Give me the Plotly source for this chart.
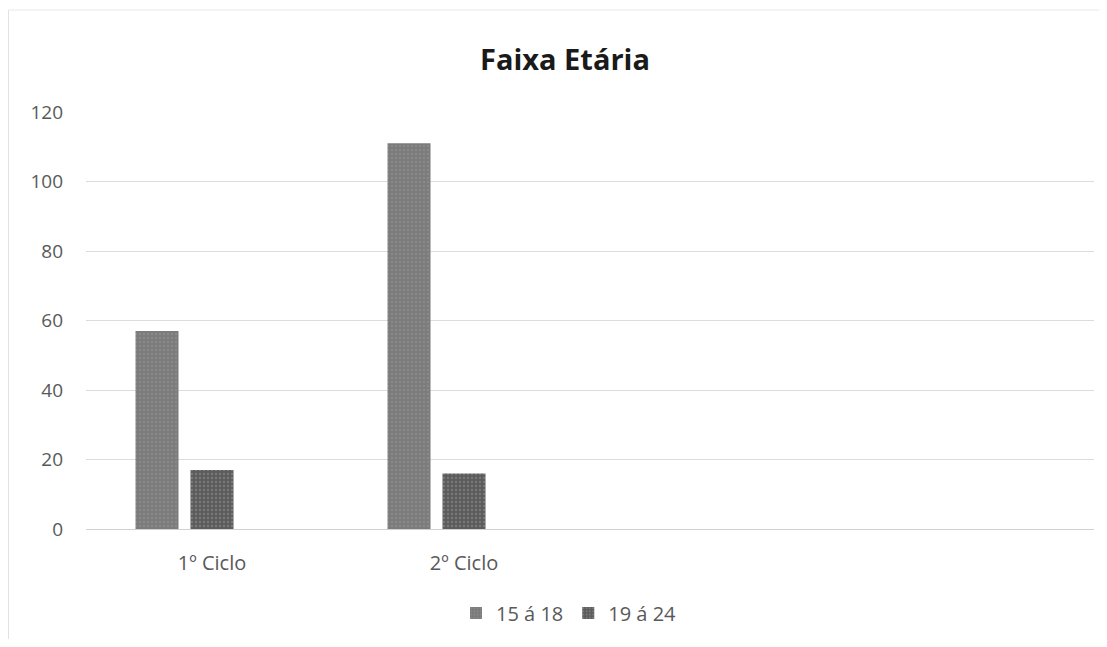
import plotly.graph_objects as go

categories = ["1º Ciclo", "2º Ciclo", " ", "  "]
series_names = ["15 á 18", "19 á 24"]
values_15_18 = [57, 111, None, None]
values_19_24 = [17, 16, None, None]
y_ticks = [0, 20, 40, 60, 80, 100, 120]

colors = ["#7b7b7b", "#5c5c5c"]
OFF = 8  # page body margin
W, H = 1107 - 2 * OFF, 647 - 2 * OFF
L, R, T, B = 86 - OFF, 13 - OFF, 112 - OFF, 118 - OFF
pw = W - L - R
ph = H - T - B
FONT = "Open Sans"

fig = go.Figure()
bar_w = 43 / 252
offsets = [-(212 - 135.5) / 252, -(212 - 190.5) / 252]
for name, vals, col, off in zip(series_names, [values_15_18, values_19_24], colors, offsets):
    fig.add_trace(go.Bar(
        x=categories, y=vals, name=name,
        marker=dict(color=col, line=dict(width=0),
                    pattern=dict(shape=".", fgcolor="#9a9a9a", size=4, solidity=0.25)),
        width=bar_w, offset=off,
    ))

def px_x(p):
    # p in page pixels
    return (p - OFF - L) / pw

def px_y(p):
    return (H - B - (p - OFF)) / ph

fig.update_layout(
    width=W, height=H,
    margin=dict(l=L, r=R, t=T, b=B),
    paper_bgcolor="white", plot_bgcolor="white",
    title=dict(text="<b>Faixa Etária</b>", x=(565 - OFF) / W, xanchor="center",
               y=1 - (60 - OFF) / H, yanchor="middle",
               font=dict(family=FONT, size=29, color="#1a1a1a")),
    font=dict(family=FONT, color="#595959"),
    showlegend=True,
    legend=dict(orientation="h", x=px_x(569), xanchor="center",
                y=px_y(613), yanchor="middle",
                font=dict(family=FONT, size=20, color="#595959"),
                itemwidth=30, traceorder="normal"),
    xaxis=dict(type="category", categoryorder="array", categoryarray=categories,
               showgrid=False, showline=False, ticks="",
               tickfont=dict(family=FONT, size=20, color="#595959"),
               ticklabelstandoff=20, range=[-0.5, 3.5]),
    yaxis=dict(range=[0, 120], tickvals=y_ticks, showgrid=True,
               gridcolor="#dcdcdc", gridwidth=1, zeroline=True,
               zerolinecolor="#d0d0d0", zerolinewidth=1, showline=False,
               ticks="", tickfont=dict(family=FONT, size=19, color="#595959"),
               ticklabelstandoff=22),
)

fig.add_shape(type="line", xref="paper", yref="paper",
              x0=px_x(8.5), x1=px_x(8.5), y0=px_y(10), y1=px_y(647 - OFF),
              line=dict(color="#e2e2e2", width=1))
fig.add_shape(type="line", xref="paper", yref="paper",
              x0=px_x(8.5), x1=px_x(1107 - OFF), y0=px_y(10), y1=px_y(10),
              line=dict(color="#e8e8e8", width=1))

fig.write_html("out.html")
